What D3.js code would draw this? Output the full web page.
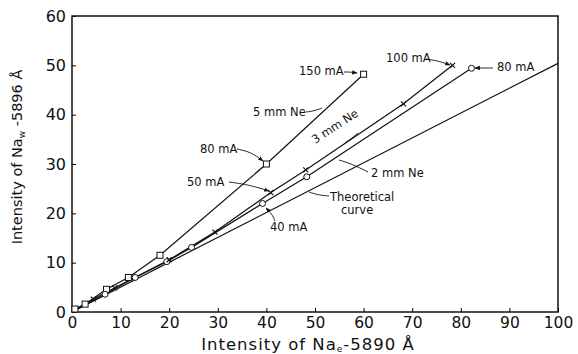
<!DOCTYPE html>
<html>
<head>
<meta charset="utf-8">
<script src="https://cdn.jsdelivr.net/npm/d3@7"></script>
<style>
body { margin:0; background:#fff; }
text { font-family: "DejaVu Sans", sans-serif; fill:#111; }
</style>
</head>
<body>
<svg id="svg1" width="578" height="354"></svg>
<script>
var xTicks = [0,10,20,30,40,50,60,70,80,90,100];
var yTicks = [0,10,20,30,40,50,60];

// 5 mm Ne (squares)
var ne5 = [[0,0],[0.6,0.6],[2.7,1.6],[7.1,4.6],[11.6,7.0],[18.1,11.5],[40,30],[60,48.2]];
// 3 mm Ne (crosses)
var ne3 = [[0,0],[4.4,2.6],[8.8,4.9],[20,10.6],[29.4,16.2],[40.9,24.2],[48.1,28.8],[68.2,42.2],[78.3,50]];
// 2 mm Ne (circles)
var ne2 = [[0,0],[6.8,3.6],[13,7.0],[19.5,10.2],[24.6,13.1],[39.2,22.0],[48.3,27.4],[82.2,49.4]];
// theoretical curve
var theo = [[0,0],[100,50.4]];

var margin = {left:72, right:20, top:16, bottom:42};
var W = 578, H = 354;

window.onload = function(){
  var svg1 = d3.select('#svg1');
  var x = d3.scaleLinear().domain([0,100]).range([margin.left, W-margin.right]);
  var y = d3.scaleLinear().domain([0,60]).range([H-margin.bottom, margin.top]);

  // frame
  svg1.append('rect')
    .attr('x',x(0)).attr('y',y(60))
    .attr('width',x(100)-x(0)).attr('height',y(0)-y(60))
    .attr('fill','none').attr('stroke','#111').attr('stroke-width',1.5);

  var xAxis = d3.axisBottom(x).tickValues(xTicks).tickSize(-4).tickPadding(5);
  var gx = svg1.append('g').attr('transform','translate(0,'+y(0)+')').call(xAxis);
  gx.select('.domain').remove();
  gx.selectAll('text').style('font-size','15.5px').attr('dy','0.72em');

  var yAxis = d3.axisLeft(y).tickValues(yTicks).tickSize(-4).tickPadding(6);
  var gy = svg1.append('g').attr('transform','translate('+x(0)+',0)').call(yAxis);
  gy.select('.domain').remove();
  gy.selectAll('text').style('font-size','16px');

  // axis titles
  var xt = svg1.append('text').attr('x',308).attr('y',350)
    .attr('text-anchor','middle').style('font-size','16.5px').style('letter-spacing','1px');
  xt.append('tspan').text('Intensity of Na');
  xt.append('tspan').text('e').style('font-size','9px').attr('dy',2);
  xt.append('tspan').text('-5890 Å').attr('dy',-2);

  var yt = svg1.append('text').attr('transform','translate(22,157) rotate(-90)')
    .attr('text-anchor','middle').style('font-size','14.5px');
  yt.append('tspan').text('Intensity of Na');
  yt.append('tspan').text('w').style('font-size','9px').attr('dy',3);
  yt.append('tspan').text(' -5896 Å').attr('dy',-3);

  var line = d3.line().x(function(d){ return x(d[0]); }).y(function(d){ return y(d[1]); });
  [ne5,ne3,ne2,theo].forEach(function(s){
    svg1.append('path').datum(s).attr('d',line)
      .attr('fill','none').attr('stroke','#111').attr('stroke-width',1.2);
  });

  // markers
  svg1.selectAll('rect.sq').data(ne5.slice(1)).enter().append('rect')
    .attr('class','sq')
    .attr('x',function(d){ return x(d[0])-3; }).attr('y',function(d){ return y(d[1])-3; })
    .attr('width',6).attr('height',6)
    .attr('fill','#fff').attr('stroke','#111').attr('stroke-width',1);
  svg1.selectAll('circle.ci').data(ne2.slice(1)).enter().append('circle')
    .attr('class','ci')
    .attr('cx',function(d){ return x(d[0]); }).attr('cy',function(d){ return y(d[1]); })
    .attr('r',3)
    .attr('fill','#fff').attr('stroke','#111').attr('stroke-width',1);
  svg1.selectAll('path.cr').data(ne3.slice(1)).enter().append('path')
    .attr('class','cr')
    .attr('d',function(d){ var cx=x(d[0]), cy=y(d[1]);
      return 'M'+(cx-2.5)+','+(cy-2.5)+'L'+(cx+2.5)+','+(cy+2.5)+'M'+(cx-2.5)+','+(cy+2.5)+'L'+(cx+2.5)+','+(cy-2.5); })
    .attr('stroke','#111').attr('stroke-width',1.2);

  // annotations
  var defs = svg1.append('defs');
  defs.append('marker').attr('id','arr').attr('viewBox','0 0 10 10')
    .attr('refX',9).attr('refY',5).attr('markerWidth',6).attr('markerHeight',6)
    .attr('orient','auto')
    .append('path').attr('d','M0,1L10,5L0,9Z').attr('fill','#111');

  function label(t,lx,ly,anchor){
    svg1.append('text').attr('x',lx).attr('y',ly).attr('text-anchor',anchor||'start')
      .style('font-size','11.5px').text(t);
  }
  function leader(pts,arrow){
    var p = svg1.append('path').attr('d',d3.line().curve(d3.curveBasis)(pts))
      .attr('fill','none').attr('stroke','#111').attr('stroke-width',0.9);
    if(arrow) p.attr('marker-end','url(#arr)');
  }

  label('150 mA',299,75);
  leader([[344,72],[350,72],[357,73]],true);
  label('5 mm Ne',253,116);
  leader([[306,112],[314,111],[322,108]],false);
  label('80 mA',200,153);
  leader([[237,149],[251,152],[263,161]],true);
  label('100 mA',386,62);
  leader([[426,59],[439,61],[450,65]],true);
  label('80 mA',497,71);
  leader([[493,68],[484,68],[475,68]],true);
  svg1.append('text').attr('transform','translate(315,144) rotate(-33)')
    .style('font-size','11.5px').text('3 mm Ne');
  leader([[358,133],[352,138],[345,143]],false);
  label('2 mm Ne',371,177);
  leader([[339,160],[352,164],[368,172]],false);
  label('Theoretical',330,201);
  label('curve',341,214);
  leader([[309,192],[318,195],[329,196]],false);
  label('50 mA',187,186);
  leader([[229,182],[250,185],[269,191]],true);
  label('40 mA',270,231);
  leader([[275,221],[272,214],[266,208]],true);
};
</script>
</body>
</html>
